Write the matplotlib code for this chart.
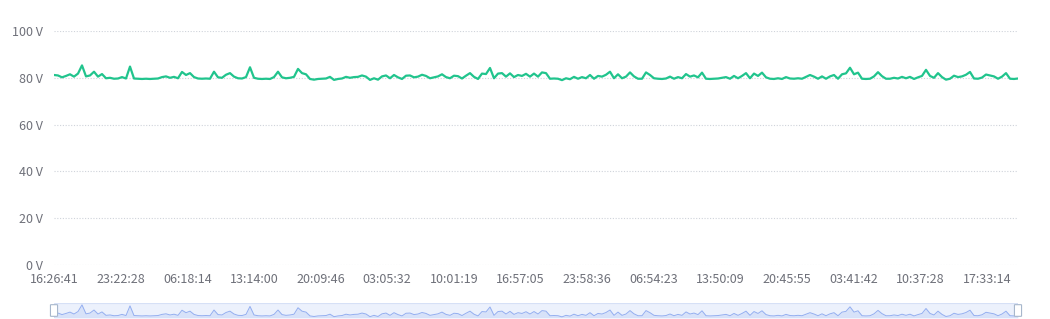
import numpy as np
import matplotlib
matplotlib.use('Agg')
import matplotlib.pyplot as plt
from matplotlib.patches import FancyBboxPatch, Rectangle

plt.rcParams['font.family'] = ['Noto Sans CJK SC', 'DejaVu Sans']

# voltage readings (V), one every sample
volts = [
    81.2, 81.0, 80.2, 80.8, 81.5, 80.5, 81.8, 85.3, 80.6, 81.0,
    82.6, 80.5, 81.6, 79.8, 80.0, 79.6, 79.7, 80.3, 79.7, 84.8,
    79.7, 79.6, 79.5, 79.6, 79.5, 79.6, 79.7, 80.3, 80.6, 80.0,
    80.4, 79.8, 82.5, 81.2, 82.0, 80.3, 79.7, 79.6, 79.7, 79.6,
    82.6, 80.2, 80.0, 81.3, 82.0, 80.5, 79.8, 79.7, 80.3, 84.5,
    80.0, 79.6, 79.5, 79.6, 79.5, 80.3, 82.6, 80.2, 79.8, 80.0,
    80.4, 83.8, 82.0, 81.5, 79.5, 79.2, 79.5, 79.6, 79.7, 80.4,
    79.1, 79.5, 79.7, 80.4, 80.0, 80.3, 80.4, 81.0, 80.5, 79.1,
    79.8, 79.2, 80.6, 81.0, 79.8, 81.2, 80.2, 79.5, 80.9, 81.0,
    80.2, 80.5, 81.3, 80.8, 79.8, 80.2, 80.6, 81.5, 80.3, 79.8,
    80.9, 80.7, 79.7, 80.9, 82.0, 80.4, 79.5, 81.8, 81.6, 84.2,
    79.8, 81.8, 82.0, 80.5, 81.9, 80.3, 81.2, 80.8, 81.7, 80.5,
    81.8, 80.5, 82.3, 82.0, 79.6, 79.7, 79.6, 79.0, 79.8, 79.4,
    80.4, 79.6, 80.3, 79.8, 81.2, 79.6, 80.8, 80.5, 81.3, 82.6,
    79.8, 81.5, 79.8, 80.5, 82.3, 80.6, 79.6, 79.6, 82.3, 81.2,
    79.8, 79.6, 79.5, 79.7, 80.5, 79.6, 80.3, 79.8, 81.6, 80.5,
    81.0, 80.2, 82.2, 79.6, 79.5, 79.6, 79.7, 80.0, 80.3, 79.6,
    80.8, 79.8, 80.8, 82.0, 79.8, 81.8, 80.8, 82.2, 80.2, 79.6,
    79.5, 79.8, 79.5, 80.3, 79.7, 79.6, 79.8, 79.6, 80.4, 81.2,
    80.5, 79.6, 80.6, 79.6, 80.6, 81.2, 79.6, 81.5, 81.9, 84.3,
    81.5, 82.2, 79.6, 79.5, 79.6, 80.6, 82.4, 80.7, 79.6, 79.6,
    80.0, 79.7, 80.4, 79.8, 80.4, 79.5, 80.2, 80.8, 83.4, 80.8,
    80.0, 82.0, 80.3, 79.2, 79.6, 80.9, 80.3, 80.6, 81.3, 82.5,
    79.7, 79.6, 80.1, 81.4, 81.0, 80.6, 79.6, 80.5, 82.0, 79.6,
    79.5, 79.7,
]

time_labels = ['16:26:41', '23:22:28', '06:18:14', '13:14:00', '20:09:46',
               '03:05:32', '10:01:19', '16:57:05', '23:58:36', '06:54:23',
               '13:50:09', '20:45:55', '03:41:42', '10:37:28', '17:33:14']

y_ticks = [0, 20, 40, 60, 80, 100]

W, H = 1050, 319
fig = plt.figure(figsize=(W / 100, H / 100), dpi=100)

def px_axes(x0, y0, x1, y1):
    return fig.add_axes([x0 / W, 1 - y1 / H, (x1 - x0) / W, (y1 - y0) / H])

text_c = '#6E7079'
line_c = '#21C48D'

ax = px_axes(54, 31, 1018, 265)
x = np.arange(len(volts))
ax.plot(x, volts, color=line_c, lw=1.6, solid_joinstyle='round', zorder=3)
ax.set_xlim(0, len(volts) - 1)
ax.set_ylim(0, 100)

for v in y_ticks:
    ax.axhline(v, color='#cfd3da', lw=0.8, ls=(0, (1, 1.5)), zorder=1)
ax.set_yticks(y_ticks)
ax.set_yticklabels([f'{v} V' for v in y_ticks])

label_step = (len(volts) - 1) * (933 / 964) / (len(time_labels) - 1)
ax.set_xticks(np.arange(len(time_labels)) * label_step)
ax.set_xticklabels(time_labels)

ax.tick_params(axis='both', length=0, labelsize=9, colors=text_c)
ax.tick_params(axis='y', pad=8)
ax.tick_params(axis='x', pad=6)
for s in ax.spines.values():
    s.set_visible(False)

# data zoom slider underneath
sl = px_axes(54, 303, 1018, 318)
sl.set_xlim(0, len(volts) - 1)
lo, hi = min(volts), max(volts)
sl.set_ylim(lo - 0.6, hi + 1.0)
sl.fill_between(x, lo - 0.6, volts, color='#a9c0f5', alpha=0.3, lw=0)
sl.plot(x, volts, color='#93aef0', lw=0.7)
sl.add_patch(Rectangle((0, 0), 1, 1, transform=sl.transAxes,
                       facecolor='#dbe5fb', alpha=0.5, edgecolor='#b8c9f0', lw=0.8, zorder=0))
sl.set_xticks([])
sl.set_yticks([])
for s in sl.spines.values():
    s.set_visible(False)

for hx in (54, 1018):
    fig.patches.append(FancyBboxPatch(((hx - 2.5) / W, 1 - 316 / H), 5 / W, 11 / H,
                                      boxstyle='round,pad=0.001',
                                      transform=fig.transFigure,
                                      facecolor='white', edgecolor='#a7b7cc', lw=0.8))

fig.savefig('out.png', dpi=100)
